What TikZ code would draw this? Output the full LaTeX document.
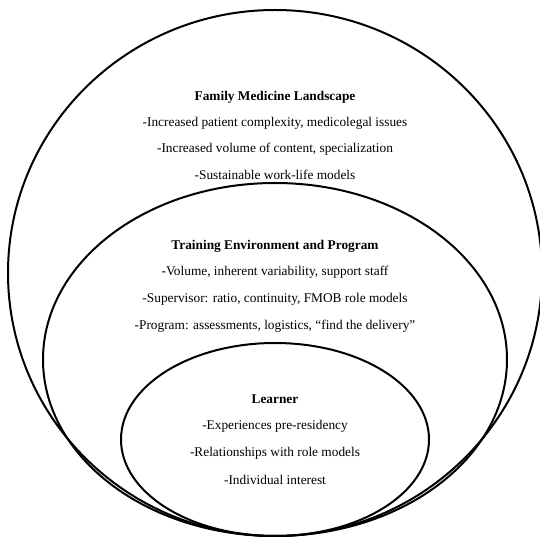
\documentclass[tikz,border=0pt]{standalone}
\usepackage{fontspec}
\setmainfont{Liberation Serif}
\usetikzlibrary{shapes.geometric}
\begin{document}
\begin{tikzpicture}[x=0.75pt,y=-0.75pt,
  ring/.style={draw, ellipse, line width=1.5pt, inner sep=0pt, outer sep=0pt},
  head/.style={font=\fontsize{10}{12}\selectfont\bfseries, inner sep=0pt},
  item/.style={font=\fontsize{10}{12}\selectfont, inner sep=0pt}]
\useasboundingbox (0,0) rectangle (540,538);
\clip (0,0) rectangle (540,538);
% rings
\node[ring, minimum width=400.5pt, minimum height=394.5pt] (outer) at (275,273) {};
\node[ring, minimum width=348pt, minimum height=264.75pt] (middle) at (275,359.5) {};
\node[ring, minimum width=231pt, minimum height=144.75pt] (inner) at (275,439.5) {};
% outer texts
\node[head] (fmh) at (275,97) {Family Medicine Landscape};
\node[item] (fm1) at (275,123) {-Increased patient complexity, medicolegal issues};
\node[item] (fm2) at (275,149) {-Increased volume of content, specialization};
\node[item] (fm3) at (275,175) {-Sustainable work-life models};
% middle texts
\node[head] (teh) at (275,246) {Training Environment and Program};
\node[item] (te1) at (275,272) {-Volume, inherent variability, support staff};
\node[item] (te2) at (275,299) {-Supervisor: ratio, continuity, FMOB role models};
\node[item] (te3) at (275,326) {-Program: assessments, logistics, “find the delivery”};
% inner texts
\node[head] (lh) at (275,399) {Learner};
\node[item] (l1) at (275,426) {-Experiences pre-residency};
\node[item] (l2) at (275,453) {-Relationships with role models};
\node[item] (l3) at (275,480) {-Individual interest};
\end{tikzpicture}
\end{document}
